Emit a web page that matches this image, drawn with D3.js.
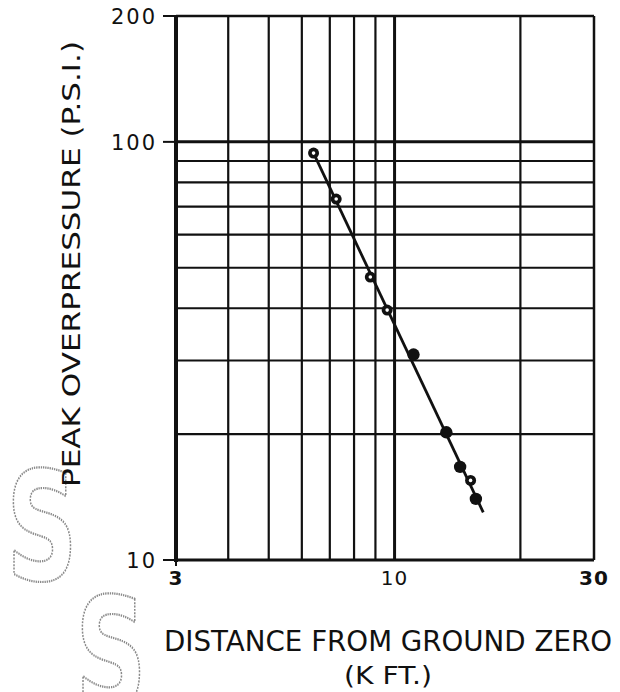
<!DOCTYPE html>
<html>
<head>
<meta charset="utf-8">
<script src="https://cdn.jsdelivr.net/npm/d3@7"></script>
<style>
  body { margin: 0; background: #fff; }
  svg { display: block; }
  text { font-family: "DejaVu Sans", sans-serif; fill: #111; }
</style>
</head>
<body>
<svg></svg>
<script>
const distKft = [6.4, 7.25, 8.75, 9.6, 11.1, 13.3, 14.35, 15.2, 15.65];
const peakPsi = [94, 73, 47.5, 39.6, 31, 20.2, 16.7, 15.5, 14.0];
const markerKind = ['open', 'open', 'open', 'open', 'solid', 'solid', 'solid', 'open', 'solid'];

// hand drawn fit line end points
const fitDist = [6.4, 16.3];
const fitPsi = [94, 13];

const xGrid = [4, 5, 6, 7, 8, 9, 10, 20];
const yGrid = [20, 30, 40, 50, 60, 70, 80, 90, 100];
const xTickLabels = [3, 10, 30];
const yTickLabels = [10, 100, 200];

const width = 620;
const height = 692;

const svg = d3.select('svg')
    .attr('width', width)
    .attr('height', height);

const x = d3.scaleLog().domain([3, 30]).range([176, 594]);
const y = d3.scaleLog().domain([10, 200]).range([560, 16]);

// stippled "S" stamps from the scan
const stamps = [
    { cx: 42, cy: 580 },
    { cx: 111, cy: 706 }
];
svg.append('g')
    .selectAll('text')
    .data(stamps)
    .enter().append('text')
    .attr('transform', d => `translate(${d.cx},${d.cy}) scale(0.92,1.4)`)
    .attr('text-anchor', 'middle')
    .style('font-size', '108px')
    .style('font-weight', 'bold')
    .style('fill', 'none')
    .style('stroke', '#8a8a8a')
    .style('stroke-width', 1.6)
    .style('stroke-dasharray', '1.4 1')
    .text('S');

const grid = svg.append('g');

grid.selectAll('line.vx')
    .data(xGrid)
    .enter().append('line')
    .attr('class', 'vx')
    .attr('x1', d => x(d)).attr('x2', d => x(d))
    .attr('y1', y(200)).attr('y2', y(10))
    .attr('stroke', '#111')
    .attr('stroke-width', d => d === 10 ? 3 : 2.2);

grid.selectAll('line.hy')
    .data(yGrid)
    .enter().append('line')
    .attr('class', 'hy')
    .attr('x1', x(3)).attr('x2', x(30))
    .attr('y1', d => y(d)).attr('y2', d => y(d))
    .attr('stroke', '#111')
    .attr('stroke-width', d => d === 100 ? 3 : 2.2);

// frame
grid.append('line').attr('x1', x(3)).attr('x2', x(30)).attr('y1', y(200)).attr('y2', y(200))
    .attr('stroke', '#111').attr('stroke-width', 2.5);
grid.append('line').attr('x1', x(3)).attr('x2', x(30)).attr('y1', y(10)).attr('y2', y(10))
    .attr('stroke', '#111').attr('stroke-width', 3);
grid.append('line').attr('x1', x(30)).attr('x2', x(30)).attr('y1', y(200)).attr('y2', y(10))
    .attr('stroke', '#111').attr('stroke-width', 2.5);
grid.append('line').attr('x1', x(3)).attr('x2', x(3)).attr('y1', y(200) - 1).attr('y2', y(10) + 2)
    .attr('stroke', '#111').attr('stroke-width', 4);

// y ticks and labels
const yAxis = svg.append('g');
yAxis.selectAll('line')
    .data(yTickLabels)
    .enter().append('line')
    .attr('x1', x(3) - 13).attr('x2', x(3))
    .attr('y1', d => y(d)).attr('y2', d => y(d))
    .attr('stroke', '#111').attr('stroke-width', 2);
yAxis.selectAll('text')
    .data(yTickLabels)
    .enter().append('text')
    .attr('x', x(3) - 19)
    .attr('y', d => y(d) + 8)
    .attr('text-anchor', 'end')
    .style('font-size', '21px')
    .style('letter-spacing', '2px')
    .text(d => d);

// x ticks and labels
const xAxis = svg.append('g');
xAxis.append('line')
    .attr('x1', x(3)).attr('x2', x(3))
    .attr('y1', y(10)).attr('y2', y(10) + 6)
    .attr('stroke', '#111').attr('stroke-width', 2);
xAxis.selectAll('text')
    .data(xTickLabels)
    .enter().append('text')
    .attr('x', d => x(d))
    .attr('y', 585)
    .attr('text-anchor', 'middle')
    .style('font-size', '20px')
    .style('font-weight', d => d === 10 ? 'normal' : 'bold')
    .style('letter-spacing', '1px')
    .text(d => d);

// axis titles
svg.append('text')
    .attr('x', 388)
    .attr('y', 651)
    .attr('text-anchor', 'middle')
    .attr('textLength', 448)
    .attr('lengthAdjust', 'spacingAndGlyphs')
    .style('font-size', '28px')
    .text('DISTANCE  FROM  GROUND  ZERO');

svg.append('text')
    .attr('x', 388)
    .attr('y', 684)
    .attr('text-anchor', 'middle')
    .attr('textLength', 88)
    .attr('lengthAdjust', 'spacingAndGlyphs')
    .style('font-size', '24px')
    .text('(K FT.)');

svg.append('text')
    .attr('transform', 'translate(80,264) rotate(-90)')
    .attr('text-anchor', 'middle')
    .attr('textLength', 446)
    .attr('lengthAdjust', 'spacingAndGlyphs')
    .style('font-size', '24px')
    .text('PEAK  OVERPRESSURE  (P.S.I.)');

// fitted line
const line = d3.line()
    .x((d, i) => x(fitDist[i]))
    .y((d, i) => y(fitPsi[i]));

svg.append('path')
    .datum(fitDist)
    .attr('d', line)
    .attr('fill', 'none')
    .attr('stroke', '#111')
    .attr('stroke-width', 2.8);

// data points: black discs, open ones keep a small white centre
const points = distKft.map((d, i) => ({ dist: d, psi: peakPsi[i], kind: markerKind[i] }));

const marks = svg.append('g');
marks.selectAll('circle.disc')
    .data(points)
    .enter().append('circle')
    .attr('class', 'disc')
    .attr('cx', d => x(d.dist))
    .attr('cy', d => y(d.psi))
    .attr('r', d => d.kind === 'open' ? 5.5 : 6.2)
    .attr('fill', '#111');
marks.selectAll('circle.hole')
    .data(points.filter(d => d.kind === 'open'))
    .enter().append('circle')
    .attr('class', 'hole')
    .attr('cx', d => x(d.dist))
    .attr('cy', d => y(d.psi))
    .attr('r', 1.8)
    .attr('fill', '#fff');
</script>
</body>
</html>
